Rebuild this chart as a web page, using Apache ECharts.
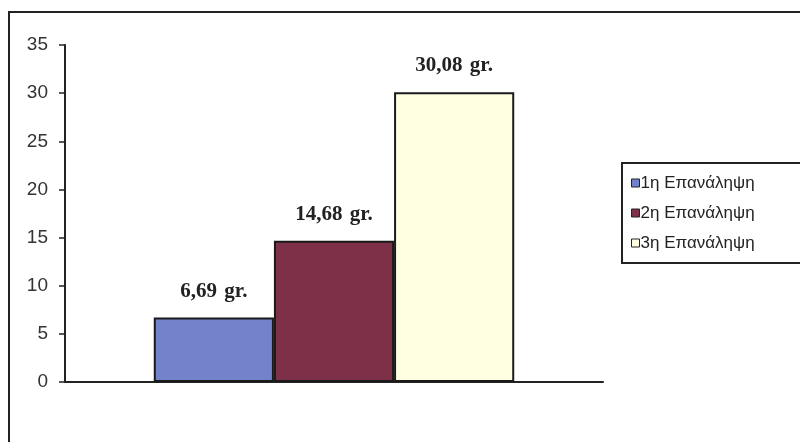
<!DOCTYPE html>
<html>
<head>
<meta charset="utf-8">
<script src="https://cdn.jsdelivr.net/npm/echarts@6/dist/echarts.min.js"></script>
<style>
  html, body { margin: 0; padding: 0; background: #fff; }
  #chart { width: 800px; height: 442px; }
</style>
</head>
<body>
<div id="chart"></div>
<script>
// data
var seriesNames = ['1η Επανάληψη', '2η Επανάληψη', '3η Επανάληψη'];
var seriesValues = [6.69, 14.68, 30.08];
var seriesColors = ['#7282cb', '#7e3049', '#ffffe1'];
var categories = [''];
var yTicks = [0, 5, 10, 15, 20, 25, 30, 35];

var myChart = echarts.init(document.getElementById('chart'));

var series = [];
for (var i = 0; i < seriesNames.length; i++) {
  series.push({
    name: seriesNames[i],
    type: 'bar',
    data: [seriesValues[i]],
    barGap: 0,
    barCategoryGap: '33%',
    itemStyle: {
      color: seriesColors[i],
      borderColor: '#1a1a1a',
      borderWidth: 2
    },
    label: {
      show: true,
      position: 'top',
      distance: 16,
      fontFamily: 'Liberation Serif',
      fontWeight: 'bold',
      fontSize: 21,
      color: '#222',
      formatter: function (p) {
        return '{n|' + p.value.toFixed(2).replace('.', ',') + '}{u| gr.}';
      },
      rich: {
        n: { fontFamily: 'Liberation Serif', fontWeight: 'bold', fontSize: 21, color: '#222' },
        u: { fontFamily: 'Liberation Serif', fontWeight: 'bold', fontSize: 21, color: '#222', padding: [0, 0, 0, 2] }
      }
    }
  });
}

var option = {
  backgroundColor: '#fff',
  animation: false,
  graphic: [{
    type: 'rect',
    shape: { x: 9, y: 12, width: 800, height: 440 },
    style: { fill: 'none', stroke: '#222', lineWidth: 2 },
    silent: true
  }],
  grid: { left: 65, right: 197, top: 45, bottom: 60 },
  legend: {
    orient: 'vertical',
    left: 622,
    top: 163,
    padding: [11, 60, 11, 9],
    itemGap: 12,
    itemWidth: 8,
    itemHeight: 8,
    borderColor: '#222',
    borderWidth: 2,
    icon: 'rect',
    itemStyle: { borderColor: '#222', borderWidth: 1 },
    textStyle: { fontFamily: 'Liberation Sans', fontSize: 17, lineHeight: 18, color: '#222', padding: [0, 0, 0, -4] },
    data: seriesNames
  },
  xAxis: {
    type: 'category',
    data: categories,
    axisLine: { lineStyle: { color: '#222', width: 2 } },
    axisTick: { show: false },
    axisLabel: { show: false }
  },
  yAxis: {
    type: 'value',
    min: yTicks[0],
    max: yTicks[yTicks.length - 1],
    interval: 5,
    axisLine: { show: true, lineStyle: { color: '#222', width: 2 } },
    axisTick: { show: true, length: 6, lineStyle: { color: '#222', width: 1.5 } },
    axisLabel: { fontFamily: 'Liberation Sans', fontSize: 19, color: '#333', margin: 17 },
    splitLine: { show: false }
  },
  series: series
};

myChart.setOption(option);
</script>
</body>
</html>
